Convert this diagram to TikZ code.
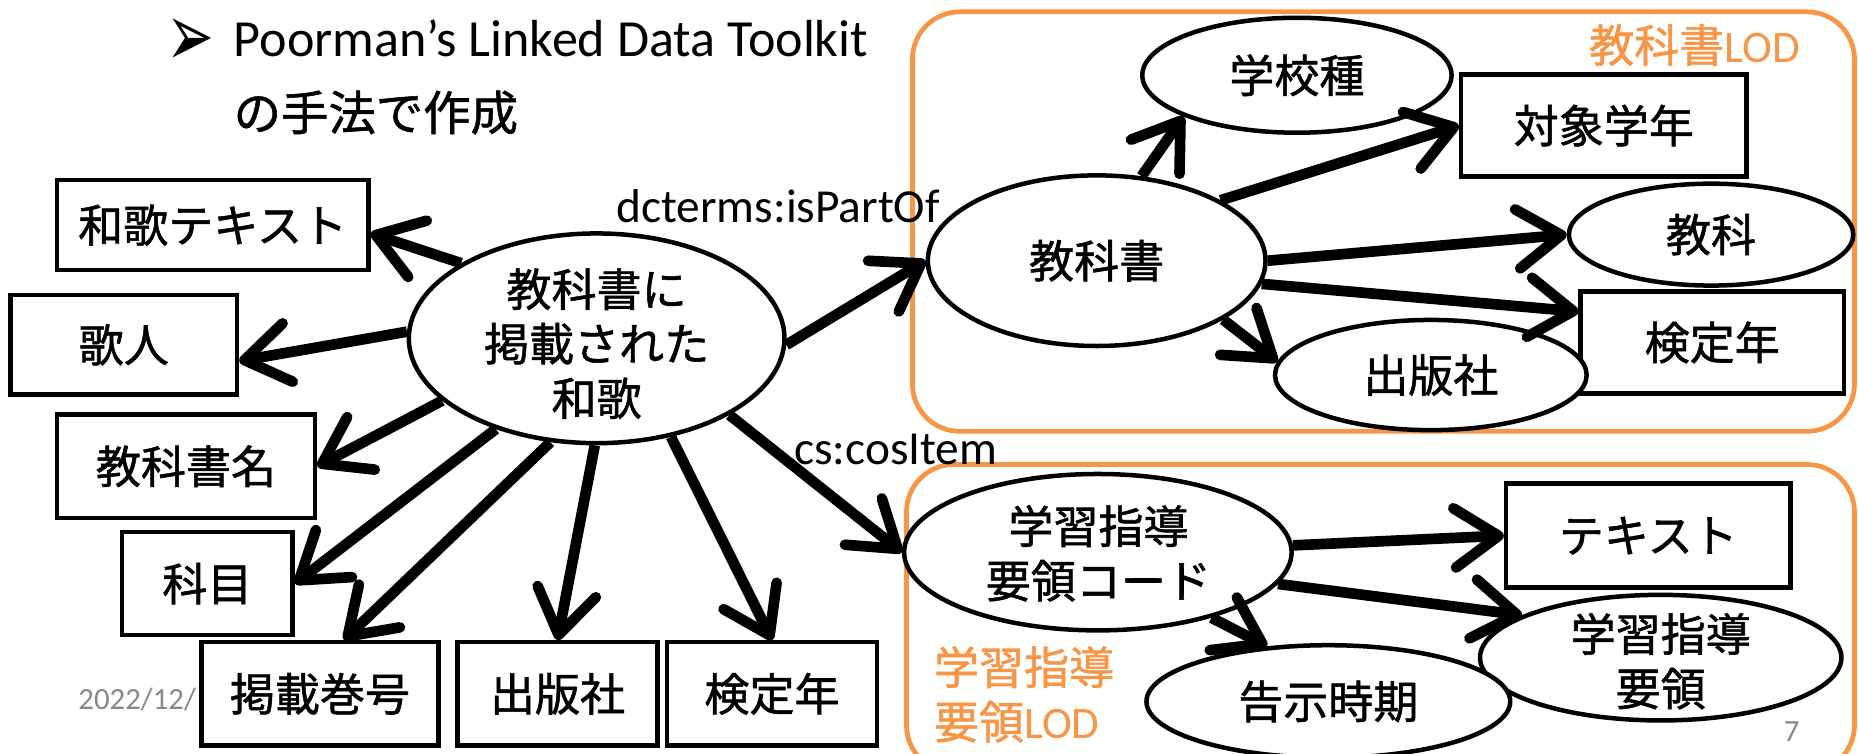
\documentclass[tikz,border=0pt]{standalone}
\usepackage{fontspec}
\usepackage{graphicx}
\setmainfont{Carlito}
\newfontfamily\cjk[FakeBold=1.2]{Noto Sans CJK JP}
\newfontfamily\dingfont{DejaVu Sans}
\usetikzlibrary{shapes.geometric,arrows.meta}
\definecolor{lodorange}{RGB}{247,150,70}
\definecolor{pagegray}{RGB}{137,137,137}
\newcommand{\jpbig}{\cjk\fontsize{38}{46}\selectfont}
\begin{document}
\begin{tikzpicture}[x=1pt,y=-1pt,
  box/.style={draw, line width=3.8pt, fill=white, inner sep=0pt, font=\jpbig},
  ell/.style={draw, ellipse, line width=3.8pt, fill=white, inner sep=0pt, font=\jpbig},
  inner/.style={inner sep=0pt, align=center, font=\jpbig},
  arr/.style={line width=9pt, -{Straight Barb[length=37pt,width=50pt,round]}},
  grp/.style={draw=lodorange, line width=4pt, rounded corners=40pt},
  lbl/.style={inner sep=0pt, font=\fontsize{40}{48}\selectfont},
  lodlbl/.style={inner sep=0pt, text=lodorange, font=\fontsize{38}{46}\selectfont},
  small/.style={inner sep=0pt, text=pagegray, font=\fontsize{26}{30}\selectfont}]
\useasboundingbox (0,0) rectangle (1568,636.3);

% groups
\draw[grp] (770,10) rectangle (1565,364);
\draw[grp] (765,392) rectangle (1565,652);

% title
\node[inner sep=0pt, font=\dingfont\fontsize{42}{46}\selectfont] (bul) at (161,36) {\scalebox{1.15}[1.8]{➢}};
\node[anchor=base west, inner sep=0pt, font=\fontsize{44}{50}\selectfont] (t1) at (197,48) {Poorman’s Linked Data Toolkit};
\node[anchor=west, inner sep=0pt, font=\cjk\fontsize{40}{46}\selectfont] (t2) at (197,95) {の手法で作成};

% left side
\node[small, anchor=base west] (date) at (66,599) {2022/12/};
\node[box, minimum width=263pt, minimum height=76pt] (wt) at (179.5,190) {和歌テキスト};
\node[box, minimum width=191pt, minimum height=84pt] (kajin) at (104.5,291) {歌人};
\node[box, minimum width=218pt, minimum height=87pt] (tbm) at (157,393.5) {教科書名};
\node[box, minimum width=144pt, minimum height=87pt] (km) at (175,492.5) {科目};
\node[box, minimum width=200pt, minimum height=87pt] (kk) at (270,585.5) {掲載巻号};
\node[box, minimum width=169pt, minimum height=87pt] (sb) at (470.5,585.5) {出版社};
\node[box, minimum width=177pt, minimum height=87pt] (kb) at (651.5,585.5) {検定年};

\node[ell, minimum width=317pt, minimum height=177pt] (c) at (503.5,285.5) {};
\node[inner] (ct) at (503.5,290) {教科書に\\掲載された\\和歌};

% textbook LOD
\node[ell, minimum width=285pt, minimum height=144pt] (tx) at (925.5,220) {教科書};
\node[ell, minimum width=261pt, minimum height=97pt] (sch) at (1094.5,63.5) {学校種};
\node[box, minimum width=241pt, minimum height=86pt] (tg) at (1353.5,106) {対象学年};
\node[ell, minimum width=240pt, minimum height=86pt] (kyk) at (1444,198) {教科};
\node[box, minimum width=222pt, minimum height=86pt] (ky) at (1445,289) {検定年};
\node[ell, minimum width=263pt, minimum height=93pt] (ps) at (1207.5,316.5) {出版社};
\node[lodlbl] (lod1) at (1430,38) {{\cjk 教科書}LOD};

% course of study LOD
\node[ell, minimum width=327pt, minimum height=132pt] (code) at (926.5,466) {};
\node[inner] (codet) at (927,467) {学習指導\\要領コード};
\node[box, minimum width=240pt, minimum height=88pt] (tt) at (1391,452) {テキスト};
\node[ell, minimum width=305pt, minimum height=106pt] (yr) at (1401.5,555) {};
\node[inner] (yrt) at (1401.5,558) {学習指導\\要領};
\node[ell, minimum width=307pt, minimum height=95pt] (kokuji) at (1121,592) {告示時期};
\node[lodlbl, anchor=west, align=left] (lod2) at (788,586) {{\cjk 学習指導}\\{\cjk 要領}LOD};

% arrows from central node
\draw[arr] (c.151) -- (wt.-3);
\draw[arr] (c.178) -- (kajin.-8);
\draw[arr] (c.202) -- (tbm.east);
\draw[arr] (c.222) -- (km.east);
\draw[arr] (c.246) -- (kk.66);
\draw[arr] (c.269) -- (sb.north);
\draw[arr] (c.307) -- (kb.north);
\draw[arr] (c.330) -- (code.west);
\draw[arr] (c.358) -- (tx.west);

% arrows from textbook
\draw[arr] (tx.62) -- (sch.200);
\draw[arr] (tx.26) -- (tg.west);
\draw[arr] (tx.0) -- (kyk.west);
\draw[arr] (tx.-8.5) -- (ky.167);
\draw[arr] (tx.-25) -- (ps.175);

% arrows from course code
\draw[arr] (code.2) -- (tt.west);
\draw[arr] (code.-10) -- (yr.163);
\draw[arr] (code.-30) -- (kokuji.138);

% edge labels
\node[lbl, anchor=base west] (lab1) at (520,188) {dcterms:isPartOf};
\node[lbl, anchor=base west] (lab2) at (670,392) {cs:cosItem};

\node[small] (pg) at (1512,617) {7};
\end{tikzpicture}
\end{document}
